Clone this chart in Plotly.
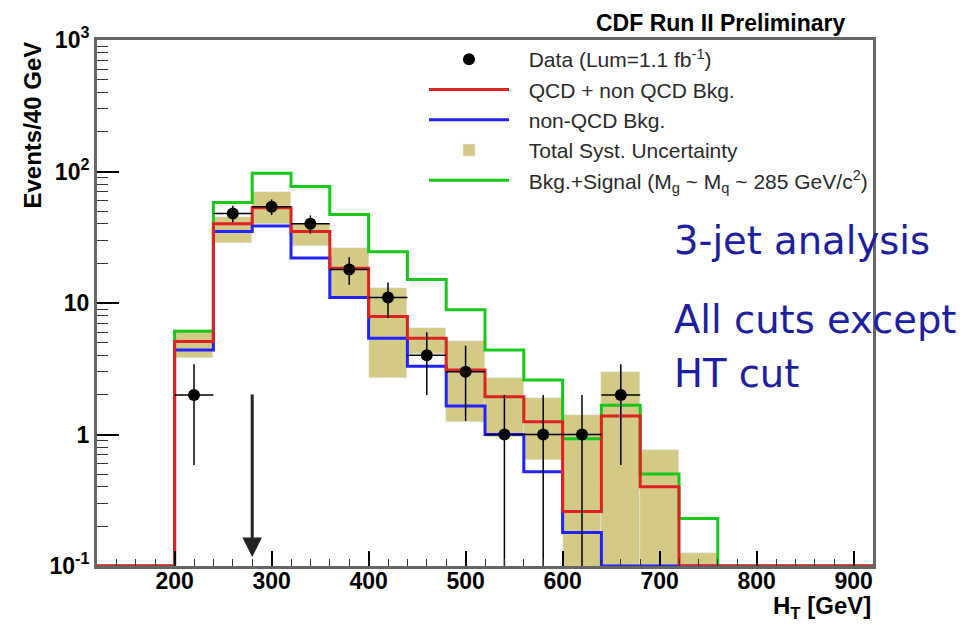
import numpy as np
import plotly.graph_objects as go

# ---------------- data ----------------
BIN_EDGES = [120, 160, 200, 240, 280, 320, 360, 400, 440, 480, 520,
             560, 600, 640, 680, 720, 760, 800, 840, 880, 920]
QCD_PLUS_NONQCD = [0, 0, 5.1, 40, 53, 35, 18.4, 7.9, 5.4, 3.1, 1.94,
                   1.25, 0.26, 1.38, 0.40, 0, 0, 0, 0, 0]
NON_QCD = [0, 0, 4.4, 35, 38.5, 22, 11, 5.4, 3.3, 1.65, 1.0,
           0.52, 0.18, 0, 0, 0, 0, 0, 0, 0]
BKG_SIGNAL = [0, 0, 6.1, 58, 97, 77, 47, 24.5, 15.1, 8.9, 4.4,
              2.6, 0.93, 1.67, 0.50, 0.23, 0, 0, 0, 0]
SYST_LOW = [0, 0, 3.8, 28.5, 40, 27, 11.2, 2.7, 4.1, 1.25, 0.96,
            0.64, 0, 0, 0, 0, 0, 0, 0, 0]
SYST_HIGH = [0, 0, 6.2, 45, 70, 40, 26, 12.9, 6.5, 5.1, 2.67,
             1.88, 1.41, 3.0, 0.76, 0.125, 0, 0, 0, 0]
DATA_COUNTS = [0, 0, 2, 48, 54, 40, 18, 11, 4, 3, 1,
               1, 1, 2, 0, 0, 0, 0, 0, 0]
HT_CUT = 280            # GeV, position of the arrow
ARROW_TOP = 2.07        # events, top of the arrow
ARROW_TIP = 0.117       # events, tip of the arrow

Y_TICK_VALS = [0.1, 1, 10, 100, 1000]
Y_TICK_TEXT = ["10<sup>-1</sup>", "1", "10", "10<sup>2</sup>", "10<sup>3</sup>"]
Y_MINOR_VALS = [k * 10 ** d for d in range(-1, 3) for k in range(2, 10)]
X_TICK_VALS = [200, 300, 400, 500, 600, 700, 800, 900]

# ---------------- helpers ----------------
edges = np.array(BIN_EDGES, dtype=float)
centers = 0.5 * (edges[:-1] + edges[1:])
widths = np.diff(edges)
Y_LOG_RANGE = [-1, 3]
X_RANGE = [float(edges[0]), float(edges[-1])]
floor = 10 ** Y_LOG_RANGE[0]


def step(vals):
    v = np.maximum(np.array(vals, dtype=float), floor)
    return [float(e) for e in edges], [float(t) for t in np.append(v, v[-1])]


FONT = "Liberation Sans, Arial, sans-serif"
SP = "\u2002\u2009"
fig = go.Figure()

# systematic band
lo = np.array(SYST_LOW, dtype=float)
hi = np.array(SYST_HIGH, dtype=float)
m = hi > 0
base = np.where(lo > 0, lo, floor * 0.01)
fig.add_trace(go.Bar(
    x=[float(c) for c in centers[m]], y=[float(t) for t in (hi - base)[m]],
    base=[float(b) for b in base[m]], width=[float(w) for w in widths[m]],
    marker=dict(color="#d3ca86"),
    name=SP + "Total Syst. Uncertainty", legendrank=4, hoverinfo="skip"))

# histograms
for vals, col, name, rank in [
        (NON_QCD, "#2222ff", "non-QCD Bkg.", 3),
        (BKG_SIGNAL, "#18c818", "Bkg.+Signal (M<sub>g</sub> ~ M<sub>q</sub> ~ 285 GeV/c<sup>2</sup>)", 5),
        (QCD_PLUS_NONQCD, "#dd2222", "QCD + non QCD Bkg.", 2)]:
    x, y = step(vals)
    fig.add_trace(go.Scatter(x=x, y=y, mode="lines", line=dict(color=col, width=3, shape="hv"),
                             name=SP + name, legendrank=rank, hoverinfo="skip"))

# data points with sqrt(N) error bars
cnt = np.array(DATA_COUNTS, dtype=float)
k = cnt > 0
n = cnt[k]
err = np.sqrt(n)
err_minus = n - np.maximum(n - err, floor * 0.01)
fig.add_trace(go.Scatter(
    x=[float(c) for c in centers[k]], y=[float(v) for v in n], mode="markers",
    marker=dict(color="black", size=12),
    error_y=dict(type="data", array=[float(e) for e in err],
                 arrayminus=[float(e) for e in err_minus], color="black", thickness=1.5, width=0),
    error_x=dict(type="data", array=[float(w / 2) for w in widths[k]], color="black",
                 thickness=1.5, width=0),
    name=SP + "Data (Lum=1.1 fb<sup>-1</sup>)", legendrank=1, hoverinfo="skip"))

# arrow at the HT cut
fig.add_annotation(x=HT_CUT, y=float(np.log10(ARROW_TIP)), ax=HT_CUT, ay=float(np.log10(ARROW_TOP)),
                   xref="x", yref="y", axref="x", ayref="y", text="", showarrow=True,
                   arrowhead=2, arrowsize=1.3, arrowwidth=3, arrowcolor="#222222")

# text annotations
fig.add_annotation(text="<b>Events/40 GeV</b>", textangle=-90, xref="paper", yref="paper",
                   x=0, y=1, xshift=-65, xanchor="center", yanchor="top", showarrow=False,
                   font=dict(family=FONT, size=24, color="black"))
fig.add_annotation(text="<b>H<sub>T</sub> [GeV]</b>", xref="paper", yref="paper",
                   x=1, y=0, yshift=-41, xanchor="right", yanchor="middle", showarrow=False,
                   font=dict(family=FONT, size=24, color="black"))
fig.add_annotation(text="<b>CDF Run II Preliminary</b>", xref="paper", yref="paper",
                   x=(847 - 97) / 776, y=1, yshift=17, xanchor="right", yanchor="middle",
                   showarrow=False, font=dict(family=FONT, size=23, color="black"))
for txt, yp in [("3-jet analysis", 0.618), ("All cuts except", 0.468), ("HT cut", 0.366)]:
    fig.add_annotation(text=txt, xref="paper", yref="paper", x=0.741, y=yp,
                       xanchor="left", yanchor="middle", showarrow=False,
                       font=dict(family="DejaVu Sans, Verdana, sans-serif", size=38.5, color="#1e1e9e"))

fig.update_layout(
    width=962, height=625,
    margin=dict(l=97, r=89, t=40, b=59),
    plot_bgcolor="white",
    barmode="overlay", bargap=0,
    showlegend=True,
    legend=dict(x=(424 - 97) / 776, xanchor="left", y=(566 - 39) / 526, yanchor="top",
                bgcolor="rgba(0,0,0,0)", borderwidth=0, itemwidth=80,
                font=dict(family=FONT, size=21, color="#2a2a2a")),
    xaxis=dict(range=X_RANGE, tickvals=X_TICK_VALS,
               ticktext=["<b>%d</b>" % v for v in X_TICK_VALS],
               ticks="inside", ticklen=15, tickwidth=2, tickcolor="#000",
               showgrid=False, zeroline=False,
               showline=True, linecolor="#666", linewidth=2.5, mirror=True,
               minor=dict(dtick=20, tick0=0, ticks="inside", ticklen=7, tickwidth=1.2, tickcolor="#333"),
               tickfont=dict(family=FONT, size=23, color="black"),
               ticklabelstandoff=-7),
    yaxis=dict(type="log", range=Y_LOG_RANGE, tickvals=Y_TICK_VALS,
               ticktext=["<b>%s</b>" % t for t in Y_TICK_TEXT],
               ticks="inside", ticklen=22, tickwidth=2, tickcolor="#000",
               showgrid=False, zeroline=False, showline=True, linecolor="#666",
               linewidth=3, mirror=True,
               minor=dict(tickmode="array", tickvals=Y_MINOR_VALS, ticks="inside",
                          ticklen=11, tickwidth=1.2, tickcolor="#333"),
               tickfont=dict(family=FONT, size=23, color="black")),
)

fig.write_html("out.html")
